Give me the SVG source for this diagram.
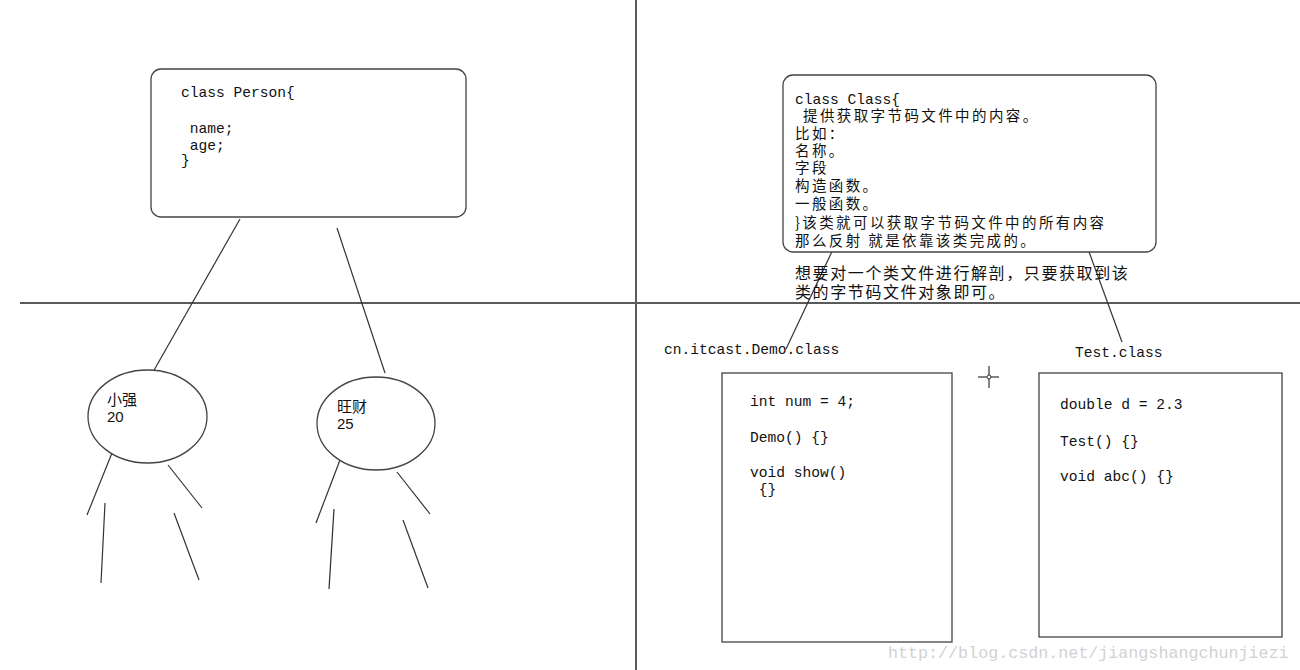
<svg xmlns="http://www.w3.org/2000/svg" width="1300" height="670" viewBox="0 0 1300 670">
<style>
.axis{stroke:#5a5a5a;stroke-width:2;fill:none}
.ln{stroke:#333;stroke-width:1.2;fill:none}
.box{stroke:#444;stroke-width:1.3;fill:#fff}
.code{font-family:"Liberation Mono",monospace;font-size:14.6px;fill:#111}
.cjk{font-family:"Noto Sans CJK SC","Noto Sans CJK JP",sans-serif;font-size:14.5px;letter-spacing:2.4px;fill:#111}
.note{font-family:"Noto Sans CJK SC","Noto Sans CJK JP",sans-serif;font-size:16px;letter-spacing:1.6px;fill:#111}
.wm{font-family:"Liberation Mono",monospace;font-size:16.7px;fill:#d2d2d2}
</style>
<rect width="1300" height="670" fill="#fff"/>
<g id="axes">
<line class="axis" x1="636" y1="0" x2="636" y2="670"/>
<line class="axis" x1="20" y1="303" x2="1300" y2="303"/>
</g>
<g id="connectors">
<line class="ln" x1="240" y1="219" x2="153" y2="372"/>
<line class="ln" x1="337" y1="228" x2="385" y2="373"/>
<line class="ln" x1="112" y1="453" x2="87" y2="515"/>
<line class="ln" x1="105" y1="503" x2="101" y2="583"/>
<line class="ln" x1="168" y1="465" x2="202" y2="508"/>
<line class="ln" x1="174" y1="513" x2="199" y2="580"/>
<line class="ln" x1="340" y1="460" x2="316" y2="523"/>
<line class="ln" x1="334" y1="509" x2="329" y2="589"/>
<line class="ln" x1="397" y1="472" x2="430" y2="514"/>
<line class="ln" x1="403" y1="520" x2="428" y2="588"/>
<line class="ln" x1="836" y1="243" x2="786" y2="349"/>
<line class="ln" x1="1088" y1="249" x2="1122" y2="342"/>
</g>
<g id="person">
<rect class="box" x="151" y="69" width="315" height="148" rx="10"/>
<text class="code" x="181" y="97">class Person{</text>
<text class="code" x="181" y="133" xml:space="preserve"> name;</text>
<text class="code" x="181" y="150" xml:space="preserve"> age;</text>
<text class="code" x="181" y="165">}</text>
</g>
<g id="xiaoqiang">
<ellipse class="box" cx="147.5" cy="416.5" rx="59.5" ry="46.5"/>
<text x="107" y="405" style="font-family:'Noto Sans CJK SC',sans-serif;font-size:15px;fill:#111">小强</text>
<text x="107" y="422" style="font-family:'Liberation Sans',sans-serif;font-size:15px;fill:#111">20</text>
</g>
<g id="wangcai">
<ellipse class="box" cx="376" cy="423.5" rx="59" ry="46.5"/>
<text x="337" y="412" style="font-family:'Noto Sans CJK SC',sans-serif;font-size:15px;fill:#111">旺财</text>
<text x="337" y="429" style="font-family:'Liberation Sans',sans-serif;font-size:15px;fill:#111">25</text>
</g>
<g id="classbox">
<rect class="box" x="783" y="75" width="373" height="177" rx="10" fill="none"/>
<text class="code" x="795" y="104">class Class{</text>
<text class="cjk" x="803" y="121">提供获取字节码文件中的内容。</text>
<text class="cjk" x="795" y="139">比如：</text>
<text class="cjk" x="795" y="156">名称。</text>
<text class="cjk" x="795" y="173">字段</text>
<text class="cjk" x="795" y="191">构造函数。</text>
<text class="cjk" x="795" y="209">一般函数。</text>
<text class="cjk" x="795" y="228">}该类就可以获取字节码文件中的所有内容</text>
<text class="cjk" x="795" y="246">那么反射 就是依靠该类完成的。</text>
</g>
<g id="note">
<text class="note" x="795" y="279">想要对一个类文件进行解剖，只要获取到该</text>
<text class="note" x="795" y="298">类的字节码文件对象即可。</text>
</g>
<g id="demo">
<text class="code" x="664" y="354">cn.itcast.Demo.class</text>
<rect class="box" x="722" y="373" width="230" height="269"/>
<text class="code" x="750" y="406">int num = 4;</text>
<text class="code" x="750" y="442">Demo() {}</text>
<text class="code" x="750" y="477">void show()</text>
<text class="code" x="750" y="494" xml:space="preserve"> {}</text>
</g>
<g id="test">
<text class="code" x="1075" y="357">Test.class</text>
<rect class="box" x="1039" y="373" width="243" height="264"/>
<text class="code" x="1060" y="409">double d = 2.3</text>
<text class="code" x="1060" y="446">Test() {}</text>
<text class="code" x="1060" y="481">void abc() {}</text>
</g>
<g id="cursor">
<line class="ln" x1="978" y1="377" x2="999" y2="377"/>
<line class="ln" x1="989" y1="366" x2="989" y2="388"/>
<circle cx="989" cy="377" r="2" fill="#fff" stroke="#333" stroke-width="1"/>
</g>
<g id="watermark">
<text class="wm" x="888" y="658">http://blog.csdn.net/jiangshangchunjiezi</text>
</g>
</svg>
